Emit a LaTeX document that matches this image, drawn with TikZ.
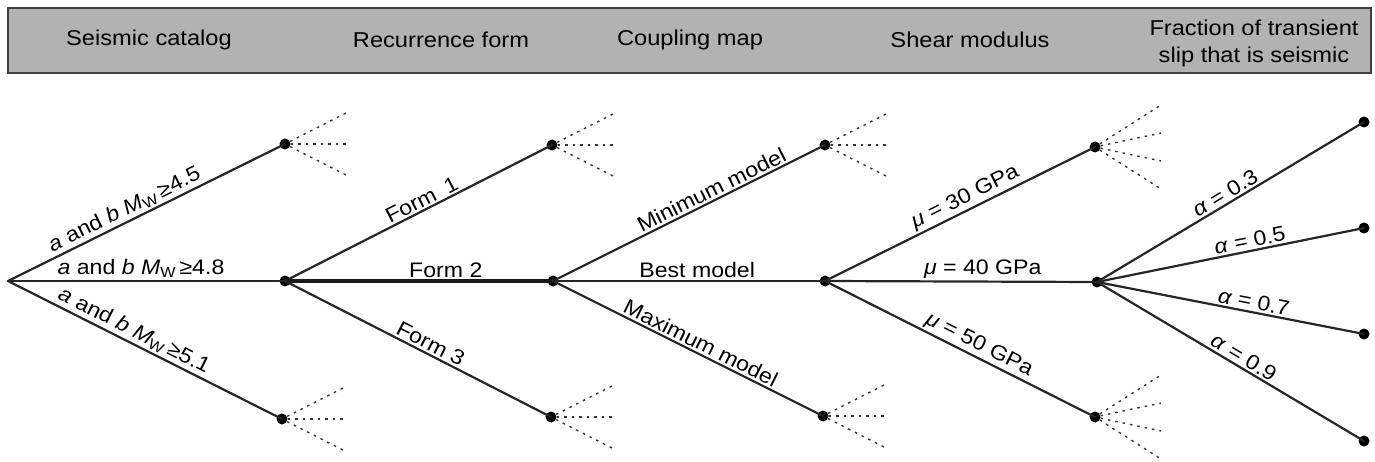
\documentclass[tikz,border=0pt]{standalone}
\usepackage{fontspec}
\setmainfont{Liberation Sans}[FakeStretch=1.1]
\newcommand{\lblfont}{\fontsize{21}{25}\selectfont}
\newcommand{\hdrfont}{\fontsize{21.5}{26}\selectfont}
\newcommand{\Mwx}{\textit{M}\textsubscript{W}\,}
\begin{document}
\begin{tikzpicture}[x=1pt,y=-1pt,
  dot/.style={circle,fill=black,inner sep=0pt,minimum size=11pt},
  br/.style={line width=2.2pt, draw=black!85, line cap=round},
  brthick/.style={line width=3.2pt, draw=black!90},
  stub/.style={line width=1.4pt, dash pattern=on 2.5pt off 5pt, draw=black!80},
  lab/.style={sloped, above, inner sep=2pt, font=\lblfont},
  hdr/.style={font=\hdrfont, align=center}]
\useasboundingbox (0,0) rectangle (1375,462);
% header
\draw[fill=black!30, draw=black!75, line width=1.3pt] (8,8) rectangle (1371,73);
\node[hdr] (h1) at (149,40) {Seismic catalog};
\node[hdr] (h2) at (441,40) {Recurrence form};
\node[hdr] (h3) at (690,40) {Coupling map};
\node[hdr] (h4) at (970,40) {Shear modulus};
\node[hdr, text depth=0pt] (h5) at (1254,41) {Fraction of transient\\[1pt]slip that is seismic};
% nodes
\coordinate (r) at (8,281);
\node[dot] (a1) at (285,144) {};
\node[dot] (a2) at (285,281) {};
\node[dot] (a3) at (282,419) {};
\node[dot] (b1) at (552,145) {};
\node[dot] (b2) at (553,281) {};
\node[dot] (b3) at (551,417) {};
\node[dot] (c1) at (825,145) {};
\node[dot] (c2) at (825,281) {};
\node[dot] (c3) at (823,416) {};
\node[dot] (d1) at (1095,147) {};
\node[dot] (d2) at (1097,282) {};
\node[dot] (d3) at (1095,417) {};
\node[dot] (e1) at (1364,122) {};
\node[dot] (e2) at (1364,228) {};
\node[dot] (e3) at (1364,334) {};
\node[dot] (e4) at (1364,441) {};
% branches
\draw[br] (r) -- node[lab,pos=0.44] {\textit{a} and \textit{b} \Mwx≥4.5} (a1.center);
\draw[br] (r) -- node[lab,pos=0.48] {\textit{a} and \textit{b} \Mwx≥4.8} (a2.center);
\draw[br] (r) -- node[lab,pos=0.44] {\textit{a} and \textit{b} \Mwx≥5.1} (a3.center);
\draw[br] (a2.center) -- node[lab,pos=0.53] {Form\hspace{0.55em}1} (b1.center);
\draw[brthick] (a2.center) -- node[lab,pos=0.6] {Form 2} (b2.center);
\draw[br] (a2.center) -- node[lab,pos=0.53] {Form 3} (b3.center);
\draw[br] (b2.center) -- node[lab,pos=0.6] {Minimum model} (c1.center);
\draw[br] (b2.center) -- node[lab,pos=0.53] {Best model} (c2.center);
\draw[br] (b2.center) -- node[lab,pos=0.53] {Maximum model} (c3.center);
\draw[br] (c2.center) -- node[lab,pos=0.54] {\textit{μ} = 30 GPa} (d1.center);
\draw[br] (c2.center) -- node[lab,pos=0.58] {\textit{μ} = 40 GPa} (d2.center);
\draw[br] (c2.center) -- node[lab,pos=0.55] {\textit{μ} = 50 GPa} (d3.center);
\draw[br] (d2.center) -- node[lab,pos=0.5] {\textit{α} = 0.3} (e1.center);
\draw[br] (d2.center) -- node[lab,pos=0.58] {\textit{α} = 0.5} (e2.center);
\draw[br] (d2.center) -- node[lab,pos=0.58] {\textit{α} = 0.7} (e3.center);
\draw[br] (d2.center) -- node[lab,pos=0.53] {\textit{α} = 0.9} (e4.center);
% dotted stubs (3 each)
\foreach \n in {a1,a3,b1,b3,c1,c3}{
  \foreach \k/\dy in {1/-32,2/0,3/32}{
    \coordinate (\n s\k) at ([shift={(63,\dy)}]\n.center);
    \draw[stub] (\n) -- (\n s\k);
  }
}
% dotted stubs (4 each)
\foreach \n in {d1,d3}{
  \foreach \k/\dy in {1/-42,2/-14,3/14,4/42}{
    \coordinate (\n s\k) at ([shift={(66,\dy)}]\n.center);
    \draw[stub] (\n) -- (\n s\k);
  }
}
\end{tikzpicture}
\end{document}
